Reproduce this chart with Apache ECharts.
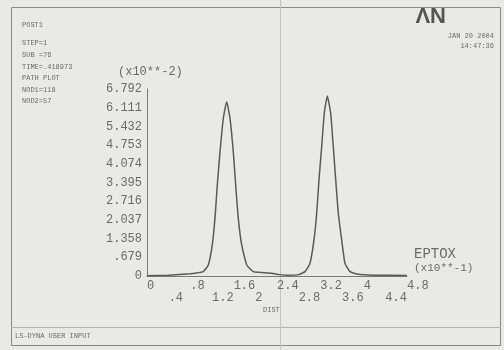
<!DOCTYPE html>
<html>
<head>
<meta charset="utf-8">
<script src="https://cdn.jsdelivr.net/npm/echarts@6/dist/echarts.min.js"></script>
<style>
  html, body { margin: 0; padding: 0; background: #e9e9e6; }
  #chart { width: 504px; height: 350px; }
</style>
</head>
<body>
<div id="chart"></div>
<script>
// path data (DIST, EPTOX x10**-2)
const distValues = [0, 0.4, 0.8, 0.886, 1.039, 1.132, 1.205, 1.255, 1.298, 1.348, 1.409, 1.471,
  1.532, 1.593, 1.637, 1.685, 1.748, 1.841, 1.962, 2.1, 2.3, 2.45, 2.6, 2.8, 2.917, 3.009,
  3.083, 3.133, 3.175, 3.225, 3.273, 3.329, 3.391, 3.439, 3.484, 3.532, 3.594, 3.655, 3.748,
  3.9, 4.2, 4.8]
const eptoxValues = [0.01, 0.03, 0.08, 0.1, 0.16, 0.4, 1.13, 2.1, 3.31, 4.51, 5.73, 6.33,
  5.73, 4.51, 3.31, 2.1, 1.13, 0.4, 0.16, 0.13, 0.1, 0.05, 0.03, 0.05, 0.16, 0.46,
  1.31, 2.28, 3.49, 4.7, 5.91, 6.54, 5.91, 4.7, 3.49, 2.28, 1.31, 0.46, 0.16,
  0.06, 0.03, 0.02]
const xTickLabels = ['0', '.4', '.8', '1.2', '1.6', '2', '2.4', '2.8', '3.2', '3.6', '4', '4.4', '4.8']
const yTickLabels = ['0', '.679', '1.358', '2.037', '2.716', '3.395', '4.074', '4.753', '5.432', '6.111', '6.792']
const infoLines = ['STEP=1', 'SUB =76', 'TIME=.418973', 'PATH PLOT', 'NOD1=118', 'NOD2=57']

const txtColor = '#6a6a6a'
const mono = 'Liberation Mono'

const chart = echarts.init(document.getElementById('chart'))

const graphics = [
  // outer frame
  { type: 'rect', shape: { x: 11.5, y: 7.5, width: 489, height: 338 }, style: { fill: 'none', stroke: '#8a8a8a', lineWidth: 1 } },
  { type: 'line', shape: { x1: 11, y1: 327.5, x2: 501, y2: 327.5 }, style: { stroke: '#b5b5b5', lineWidth: 1 } },
  // page fold of the scan
  { type: 'line', shape: { x1: 280.5, y1: 0, x2: 280.5, y2: 350 }, style: { stroke: '#c4c4c2', lineWidth: 1 }, z: 0 },
  { type: 'text', left: 22, top: 22, style: { text: 'POST1', font: '7px ' + mono, fill: txtColor } },
  { type: 'text', right: 58, top: 6, style: { text: 'ΛN', font: 'bold 22px Liberation Sans', fill: '#555' } },
  { type: 'text', right: 10, top: 33, style: { text: 'JAN 20 2004', font: '7px ' + mono, fill: txtColor, align: 'right' } },
  { type: 'text', right: 10, top: 43, style: { text: '14:47:36', font: '7px ' + mono, fill: txtColor, align: 'right' } },
  { type: 'text', left: 118, top: 66, style: { text: '(x10**-2)', font: '12px ' + mono, fill: txtColor } },
  { type: 'text', left: 414, top: 247, style: { text: 'EPTOX', font: '14px ' + mono, fill: txtColor } },
  { type: 'text', left: 414, top: 263, style: { text: '(x10**-1)', font: '11px ' + mono, fill: txtColor } },
  { type: 'text', left: 263, top: 307, style: { text: 'DIST', font: '7px ' + mono, fill: txtColor } },
  { type: 'text', left: 15, top: 333, style: { text: 'LS-DYNA USER INPUT', font: '7px ' + mono, fill: txtColor } }
]
infoLines.forEach((s, i) => {
  graphics.push({ type: 'text', left: 22, top: 40 + i * 11.6, style: { text: s, font: '7px ' + mono, fill: txtColor } })
})

const option = {
  backgroundColor: '#e9e9e6',
  animation: false,
  grid: { left: 147, right: 97, top: 89, bottom: 74 },
  xAxis: {
    type: 'value',
    min: 0,
    max: 4.8,
    interval: 0.4,
    axisLine: { lineStyle: { color: '#7a7a7a', width: 1 } },
    axisTick: { show: false },
    splitLine: { show: false },
    axisLabel: {
      color: txtColor,
      fontFamily: mono,
      fontSize: 12,
      lineHeight: 12,
      margin: 4,
      align: 'left',
      showMaxLabel: true,
      formatter: (v, i) => (i % 2 === 1 ? '\n' : '') + xTickLabels[i]
    }
  },
  yAxis: {
    type: 'value',
    min: 0,
    max: 6.792,
    interval: 0.6792,
    axisLine: { show: true, lineStyle: { color: '#7a7a7a', width: 1 } },
    axisTick: { show: false },
    splitLine: { show: false },
    axisLabel: {
      color: txtColor,
      fontFamily: mono,
      fontSize: 12,
      margin: 5,
      showMaxLabel: true,
      formatter: (v, i) => yTickLabels[i]
    }
  },
  series: [{
    type: 'line',
    data: distValues.map((d, i) => [d, eptoxValues[i]]),
    showSymbol: false,
    lineStyle: { color: '#5a5a5a', width: 1.5 },
    smooth: 0.15
  }],
  graphic: graphics
}
chart.setOption(option)
</script>
</body>
</html>
